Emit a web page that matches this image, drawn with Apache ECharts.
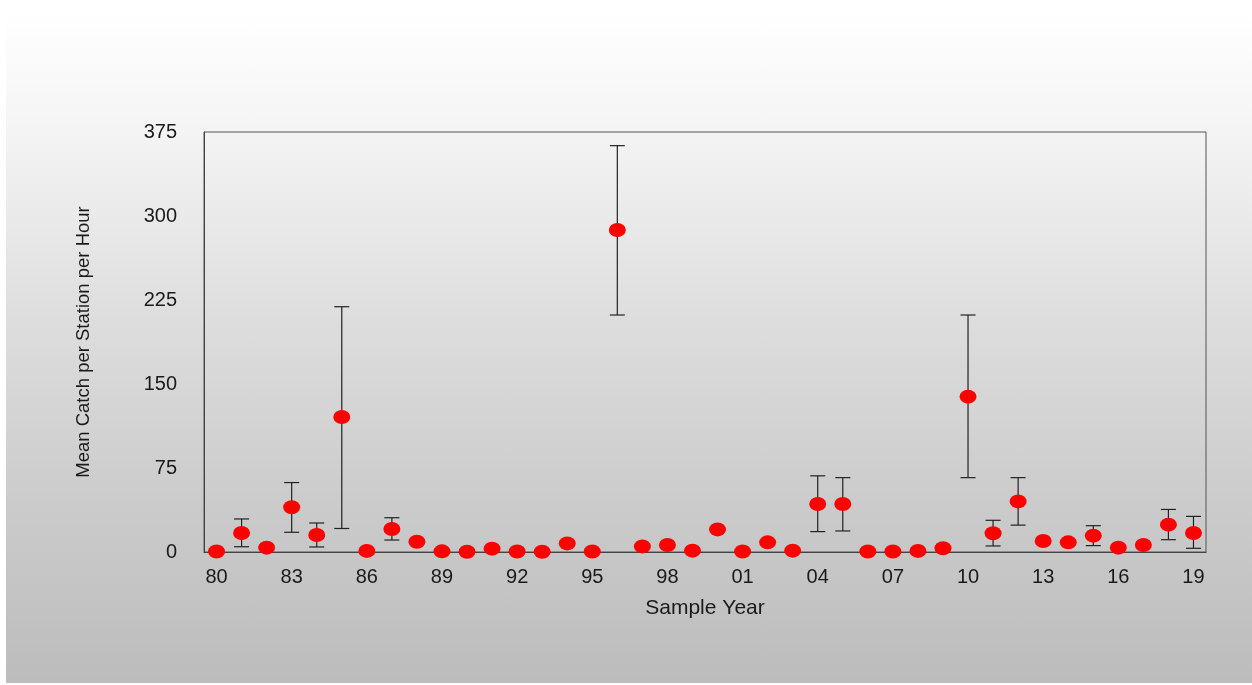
<!DOCTYPE html>
<html>
<head>
<meta charset="utf-8">
<script src="https://cdn.jsdelivr.net/npm/echarts@6/dist/echarts.min.js"></script>
<style>
  html, body { margin: 0; padding: 0; background: #ffffff; }
  #bg { position: absolute; left: 6px; top: 10px; width: 1246px; height: 673px;
        background: linear-gradient(to bottom, #ffffff 0%, #f4f4f4 18%, #dedede 45%, #cccccc 72%, #bcbcbc 100%); }
  #chart { position: absolute; left: 0; top: 0; width: 1252px; height: 685px; }
</style>
</head>
<body>
<div id="bg"></div>
<div id="chart"></div>
<script>
const years = ['80','81','82','83','84','85','86','87','88','89',
               '90','91','92','93','94','95','96','97','98','99',
               '00','01','02','03','04','05','06','07','08','09',
               '10','11','12','13','14','15','16','17','18','19'];
const meanCatch = [0.5, 17, 3.9, 40, 15.2, 120.5, 1, 20.5, 9.2, 0.6,
                   0.2, 3, 0.5, 0.2, 7.7, 0.5, 287.5, 5, 6.2, 1.2,
                   20.2, 0.5, 8.6, 1.2, 42.9, 42.9, 0.5, 0.5, 1, 3.3,
                   138.7, 16.7, 45.2, 9.8, 8.6, 14.6, 3.9, 6.2, 24.4, 17];
const upperCI = [null, 29.5, null, 62, 25.9, 219, null, 30.6, null, null,
                 null, null, null, null, null, null, 362.8, null, null, null,
                 null, null, null, null, 68, 66.4, null, null, null, null,
                 211.6, 28.3, 66.4, null, null, 23.5, null, null, 38, 31.8];
const lowerCI = [null, 4.7, null, 17.6, 4.5, 21, null, 10.7, null, null,
                 null, null, null, null, null, null, 211.6, null, null, null,
                 null, null, null, null, 18.2, 18.8, null, null, null, null,
                 66.4, 5.4, 24, null, null, 5.7, null, null, 11, 3.3];
const yTicks = { min: 0, max: 375, interval: 75 };

const errData = [];
years.forEach((y, i) => {
  if (upperCI[i] != null) errData.push([i, lowerCI[i], upperCI[i]]);
});

const chart = echarts.init(document.getElementById('chart'), null, { renderer: 'canvas' });
const fontFam = '"Liberation Sans", Arial, sans-serif';
chart.setOption({
  backgroundColor: 'transparent',
  animation: false,
  grid: { left: 204, right: 46, top: 132, bottom: 133, show: true,
          borderColor: '#555', borderWidth: 1, backgroundColor: 'transparent' },
  xAxis: {
    type: 'category', data: years, boundaryGap: true,
    name: 'Sample Year', nameLocation: 'middle', nameGap: 46,
    nameTextStyle: { fontFamily: fontFam, fontSize: 21, color: '#1a1a1a' },
    axisLine: { lineStyle: { color: '#444', width: 1 } },
    axisTick: { inside: true, length: 10, interval: 2, alignWithLabel: true, lineStyle: { color: '#222' } },
    axisLabel: { interval: 2, fontFamily: fontFam, fontSize: 20, color: '#1a1a1a', margin: 15 },
    splitLine: { show: false }
  },
  yAxis: {
    type: 'value', min: yTicks.min, max: yTicks.max, interval: yTicks.interval,
    name: 'Mean Catch per Station per Hour', nameLocation: 'middle', nameGap: 111, nameRotate: 90,
    nameTextStyle: { fontFamily: fontFam, fontSize: 18.5, color: '#1a1a1a' },
    axisLine: { show: true, lineStyle: { color: '#444', width: 1 } },
    axisTick: { inside: true, length: 10, lineStyle: { color: '#555' } },
    axisLabel: { fontFamily: fontFam, fontSize: 20, color: '#1a1a1a', margin: 27 },
    splitLine: { show: false }
  },
  series: [
    {
      type: 'custom', z: 2,
      data: errData,
      renderItem: function (params, api) {
        const x = api.value(0);
        const lo = api.coord([x, api.value(1)]);
        const hi = api.coord([x, api.value(2)]);
        const hw = 7.5;
        const st = { stroke: '#222', lineWidth: 1.2 };
        return { type: 'group', children: [
          { type: 'line', shape: { x1: lo[0], y1: lo[1], x2: hi[0], y2: hi[1] }, style: st },
          { type: 'line', shape: { x1: hi[0] - hw, y1: hi[1], x2: hi[0] + hw, y2: hi[1] }, style: st },
          { type: 'line', shape: { x1: lo[0] - hw, y1: lo[1], x2: lo[0] + hw, y2: lo[1] }, style: st }
        ]};
      }
    },
    {
      type: 'scatter', z: 5,
      data: meanCatch,
      symbol: 'circle', symbolSize: [17, 14],
      itemStyle: { color: '#ff0000', opacity: 1 }
    }
  ]
});
</script>
</body>
</html>
